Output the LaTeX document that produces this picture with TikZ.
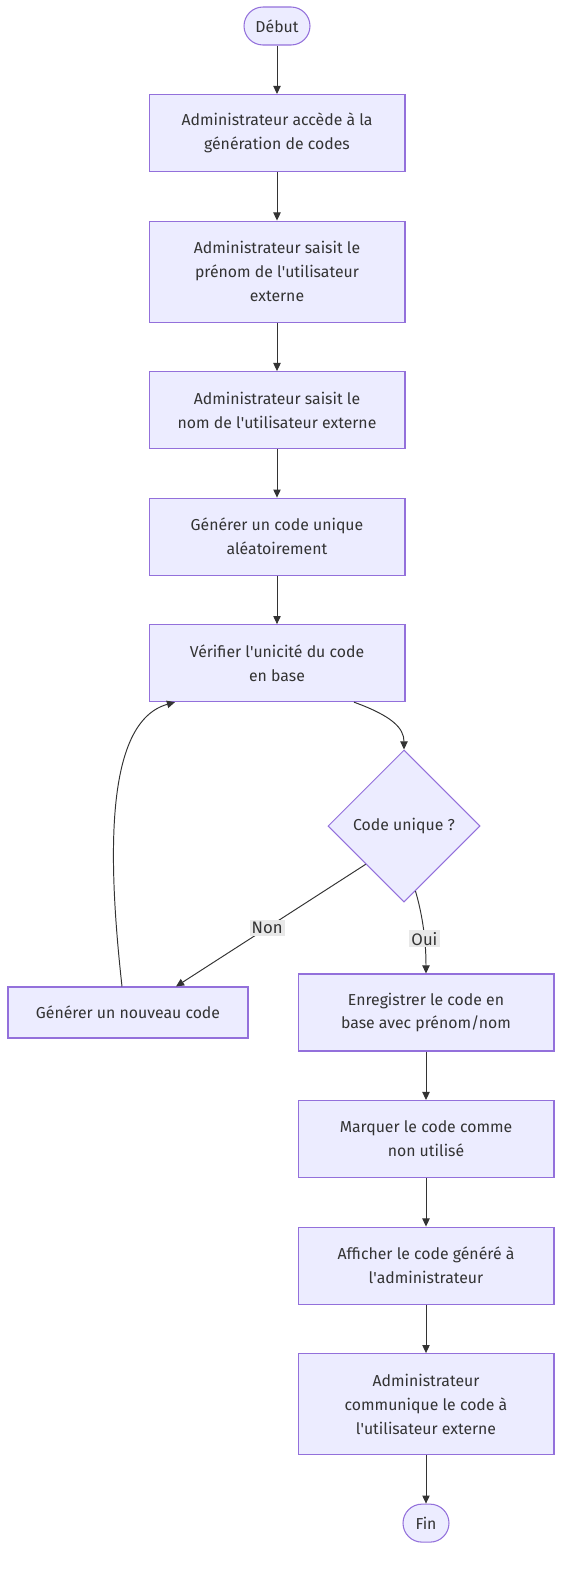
\documentclass[tikz,border=0pt]{standalone}
\usepackage{fontspec}
\setmainfont{Fira Sans}
\usetikzlibrary{shapes.geometric, arrows.meta, positioning, calc}
\definecolor{cFill}{HTML}{ECECFF}
\definecolor{cLine}{HTML}{9370DB}
\definecolor{cArrow}{HTML}{333333}
\definecolor{cLabel}{HTML}{E8E8E8}
\newcommand{\ap}{\textquotesingle}
\tikzset{
  basebox/.style={rectangle, draw=cLine, fill=cFill, line width=0.6pt,
                  align=center, font=\fontsize{9}{13.6}\selectfont, text=cArrow},
  stepbox/.style={basebox, minimum width=5.12cm, minimum height=1.54cm},
  tallbox/.style={stepbox, minimum height=2.02cm},
  termnode/.style={basebox, rounded corners=0.38cm, minimum height=0.76cm},
  decisionnode/.style={diamond, draw=cLine, fill=cFill, line width=0.6pt,
                       minimum width=3.04cm, minimum height=3.04cm, inner sep=0pt,
                       font=\fontsize{9}{13.6}\selectfont, text=cArrow},
  edgelabel/.style={fill=cLabel, inner sep=1.2pt, font=\fontsize{9.5}{11}\selectfont, text=cArrow},
  arrow/.style={-{Triangle[length=4.6pt,width=4.2pt]}, line width=0.55pt, color=cArrow}
}
\begin{document}
\begin{tikzpicture}[x=0.02cm, y=-0.02cm, node distance=0.97cm and 1cm]
  \useasboundingbox (0,0) rectangle (571,1572);

  % Main column
  \node[termnode, minimum width=1.32cm] (start) at (277,26) {Début};
  \node[stepbox, below=0.97cm of start] (acces)
      {Administrateur accède à la\\génération de codes};
  \node[tallbox, below=of acces] (prenom)
      {Administrateur saisit le\\prénom de l\ap utilisateur\\externe};
  \node[stepbox, below=of prenom] (nom)
      {Administrateur saisit le\\nom de l\ap utilisateur externe};
  \node[stepbox, below=of nom] (gen)
      {Générer un code unique\\aléatoirement};
  \node[stepbox, below=of gen] (verif)
      {Vérifier l\ap unicité du code\\en base};

  % Decision
  \node[decisionnode] (unique) at (404,826) {Code unique ?};

  % Branches
  \node[basebox, minimum width=4.8cm, minimum height=1.02cm] (nouveau) at (128,1012.5)
      {Générer un nouveau code};
  \node[stepbox] (enreg) at (426,1012.5)
      {Enregistrer le code en\\base avec prénom/nom};
  \node[stepbox, below=of enreg] (marque)
      {Marquer le code comme\\non utilisé};
  \node[stepbox, below=of marque] (affiche)
      {Afficher le code généré à\\l\ap administrateur};
  \node[tallbox, below=of affiche] (commun)
      {Administrateur\\communique le code à\\l\ap utilisateur externe};
  \node[termnode, minimum width=0.92cm, below=0.97cm of commun] (fin) {Fin};

  % Edges
  \draw[arrow] (start) -- (acces);
  \draw[arrow] (acces) -- (prenom);
  \draw[arrow] (prenom) -- (nom);
  \draw[arrow] (nom) -- (gen);
  \draw[arrow] (gen) -- (verif);
  \draw[arrow] ($(verif.south)+(77,0)$) .. controls (392,716) and (404,728) .. (unique.north);
  \draw[arrow] (unique.south west) -- node[edgelabel, pos=0.52] {Non} ($(nouveau.north)+(48,0)$);
  \draw[arrow] (unique.-80) .. controls (421,910) and (426,935) .. node[edgelabel, pos=0.66] {Oui} (enreg.north);
  \draw[arrow] ($(nouveau.north)+(-6,0)$) .. controls (108,860) and (104,722) .. ($(verif.south)+(-102,0)$);
  \draw[arrow] (enreg) -- (marque);
  \draw[arrow] (marque) -- (affiche);
  \draw[arrow] (affiche) -- (commun);
  \draw[arrow] (commun) -- (fin);
\end{tikzpicture}
\end{document}
